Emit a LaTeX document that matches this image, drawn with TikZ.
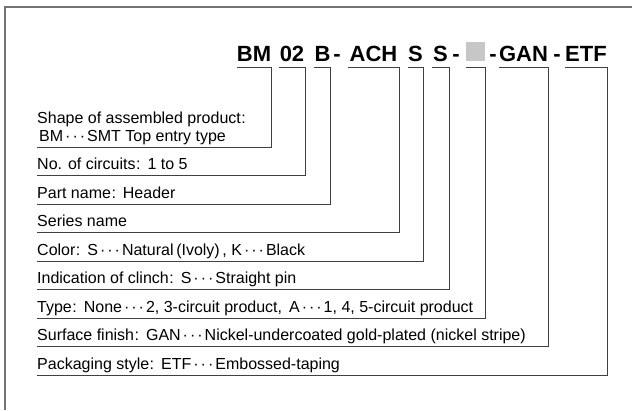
\documentclass[tikz,border=0pt]{standalone}
\usepackage{fontspec}
\setmainfont{Liberation Sans}
\newcommand\pnsep{\kern0.5pt:\hspace{7pt}}
\newcommand\pndots{\kern2pt·\kern2pt·\kern2pt·\kern2pt}

\begin{document}
\begin{tikzpicture}[x=1pt, y=-1pt,
	code/.style={font=\fontsize{22}{22}\selectfont\bfseries, inner sep=0pt, anchor=base},
	item/.style={font=\fontsize{16}{18}\selectfont, inner sep=0pt, anchor=base west},
	lead/.style={line width=1pt, color=black!75},
	frame/.style={line width=1.2pt, color=black!55}]
			%%%%% START %%%%%
			
			\useasboundingbox (0,0) rectangle (632,410);
			\draw[frame] (632,7) -- (5,7) -- (5,410);
			
			\node[code, minimum width=34pt] (bm) at (254,61) {BM};
			\node[code, minimum width=26pt] (cir) at (292,61) {02};
			\node[code, minimum width=15pt] (pn) at (322.5,61) {B};
			\node[code] (d1) at (337,61) {-};
			\node[code, minimum width=51pt] (ach) at (373.5,61) {ACH};
			\node[code, minimum width=15pt] (col) at (415.5,61) {S};
			\node[code, minimum width=17pt] (cl) at (440.5,61) {S};
			\node[code] (d2) at (456,61) {-};
			\node[fill=black!22, inner sep=0pt, minimum width=19pt, minimum height=19pt, anchor=south] (typ) at (475.5,61) {};
			\node[code] (d3) at (493,61) {-};
			\node[code, minimum width=49pt] (gan) at (523.5,61) {GAN};
			\node[code] (d4) at (557,61) {-};
			\node[code, minimum width=42pt] (etf) at (586,61) {ETF};
			
			\node[item] (shape) at (37,123) {Shape of assembled product\pnsep};
			\node[item] (shapeb) at (39,141) {BM\pndots SMT Top entry type};
			\node[item] (circ) at (37,169) {No. of circuits\pnsep 1 to 5};
			\node[item] (part) at (37,198) {Part name\pnsep Header};
			\node[item] (series) at (37,226) {Series name};
			\node[item] (color) at (37,255) {Color\pnsep S\pndots Natural\,(Ivoly)\,, K\pndots Black};
			\node[item] (clinch) at (37,283) {Indication of clinch\pnsep S\pndots Straight pin};
			\node[item] (type) at (37,312) {Type\pnsep None\pndots 2, 3-circuit product,\hspace{7pt}A\pndots 1, 4, 5-circuit product};
			\node[item] (finish) at (37,340) {Surface finish\pnsep GAN\pndots Nickel-undercoated gold-plated (nickel stripe)};
			\node[item] (pack) at (37,369) {Packaging style\pnsep ETF\pndots Embossed-taping};
			
			\draw[lead] ([yshift=-6pt]bm.base west) -- ([yshift=-6pt]bm.base east) |- ([yshift=-6pt]shapeb.base west -| shape.west);
			\draw[lead] ([yshift=-6pt]cir.base west) -- ([yshift=-6pt]cir.base east) |- ([yshift=-6pt]circ.base west);
			\draw[lead] ([yshift=-6pt]pn.base west) -- ([yshift=-6pt]pn.base east) |- ([yshift=-6pt]part.base west);
			\draw[lead] ([yshift=-6pt]ach.base west) -- ([yshift=-6pt]ach.base east) |- ([yshift=-6pt]series.base west);
			\draw[lead] ([yshift=-6pt]col.base west) -- ([yshift=-6pt]col.base east) |- ([yshift=-6pt]color.base west);
			\draw[lead] ([yshift=-6pt]cl.base west) -- ([yshift=-6pt]cl.base east) |- ([yshift=-6pt]clinch.base west);
			\draw[lead] ([yshift=-6pt]typ.south west) -- ([yshift=-6pt]typ.south east) |- ([yshift=-6pt]type.base west);
			\draw[lead] ([yshift=-6pt]gan.base west) -- ([yshift=-6pt]gan.base east) |- ([yshift=-6pt]finish.base west);
			\draw[lead] ([yshift=-6pt]etf.base west) -- ([yshift=-6pt]etf.base east) |- ([yshift=-6pt]pack.base west);
			
			%%%%% END %%%%%
\end{tikzpicture}
\end{document}
